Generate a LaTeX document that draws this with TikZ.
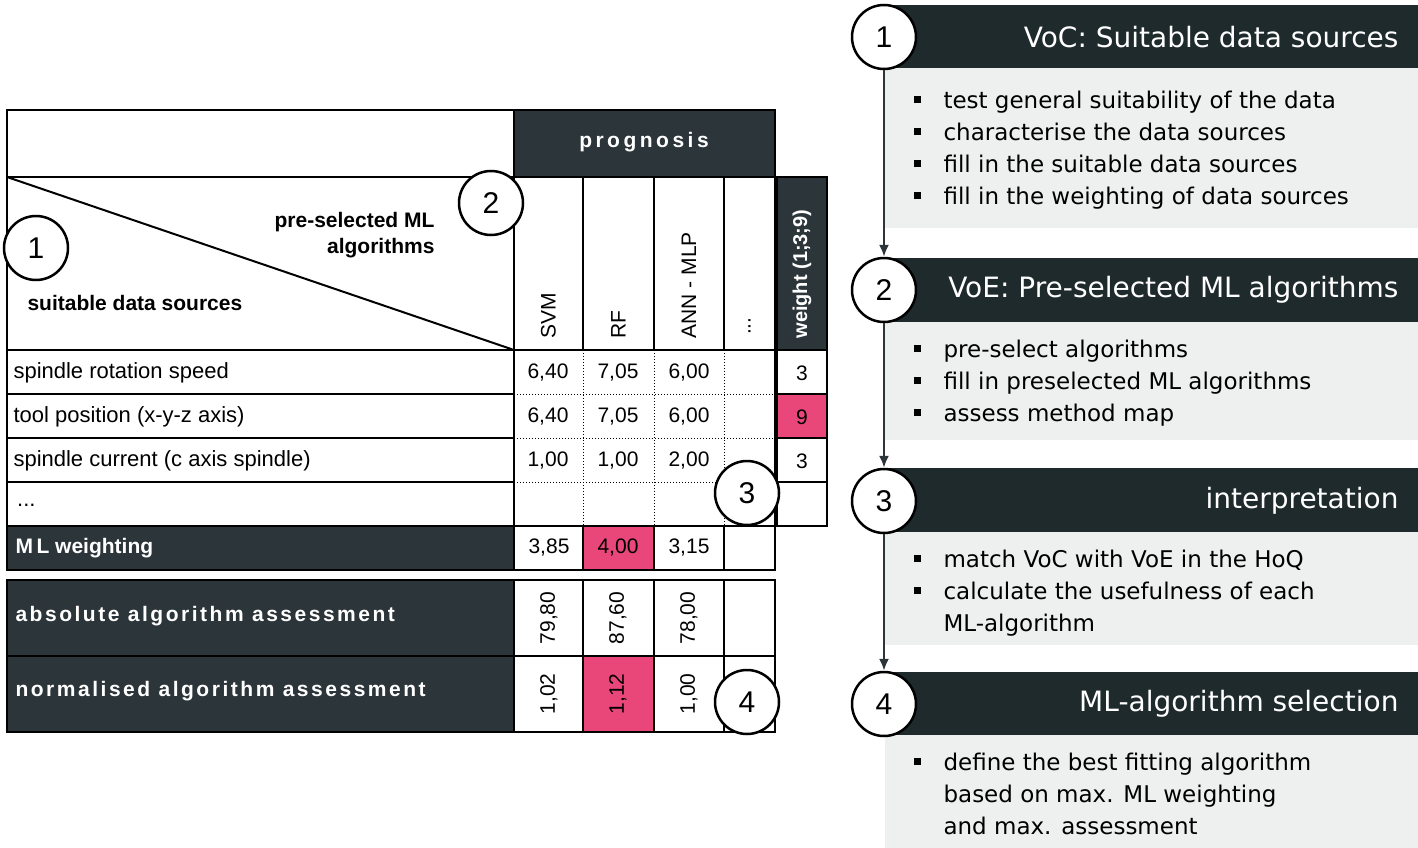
\documentclass[tikz,border=0pt]{standalone}
\usepackage{fontspec}
\usetikzlibrary{arrows.meta}
\setmainfont{Liberation Sans}
\newfontfamily\rfont{DejaVu Sans}
\definecolor{dk}{HTML}{2C3539}
\definecolor{dk2}{HTML}{1F2A2D}
\definecolor{pk}{HTML}{E9467A}
\definecolor{gr}{HTML}{EEF0F0}
\begin{document}
\begin{tikzpicture}[x=1pt,y=-1pt,
 cell/.style={draw=black,line width=2pt},
 dcell/.style={cell,fill=dk},
 num/.style={font=\fontsize{21}{22}\selectfont},
 lab/.style={font=\fontsize{22}{22}\selectfont,anchor=west},
 wlab/.style={font=\fontsize{21}{22}\selectfont\bfseries,text=white,anchor=west},
 circ/.style={circle,draw=black,line width=2.5pt,fill=white,minimum size=64pt,inner sep=0pt,font=\fontsize{30}{30}\selectfont},
 hdr/.style={fill=dk2},
 ttl/.style={text=white,anchor=east,font=\rfont\fontsize{28}{30}\selectfont},
 bul/.style={anchor=west,font=\rfont\fontsize{23}{32}\selectfont,align=left},
 arr/.style={line width=2pt,draw=dk,-{Latex[length=12pt,width=10pt]}}]
\useasboundingbox (0,0) rectangle (1418,848);
% table header
\draw[cell] (7,110) rectangle (514,177);
\draw[dcell] (514,110) rectangle (775,177);
\node[text=white,font=\fontsize{21}{22}\selectfont\bfseries] (prog) at (644,142) {p\,r\,o\,g\,n\,o\,s\,i\,s};
\draw[cell] (7,177) rectangle (514,350);
\draw[line width=2pt] (7,177) -- (514,350);
\node[anchor=east,align=right,font=\fontsize{21}{26}\selectfont\bfseries] (psel) at (438,235) {pre-selected ML\\algorithms};
\node[anchor=west,font=\fontsize{21}{22}\selectfont\bfseries] (sds) at (24,303) {suitable data sources};
% algorithm columns
\foreach \a/\b/\t in {514/583/{SVM},583/654/{RF},654/724/{ANN - MLP},724/775/{\,...}}{
 \draw[cell] (\a,177) rectangle (\b,350);
 \node[rotate=90,anchor=west,num] at ({(\a+\b)/2},342) {\t};
}
\draw[dcell] (777,177) rectangle (827,350);
\node[rotate=90,anchor=west,text=white,font=\fontsize{20}{22}\selectfont\bfseries] (wt) at (802,342) {weight (1;3;9)};
% data rows
\foreach \y/\t in {350/{spindle rotation speed},394/{tool position (x-y-z axis)},438/{spindle current (c axis spindle)},482/{\,...}}{
 \draw[cell] (7,\y) rectangle (514,\y+44);
 \node[lab] at (10,\y+23) {\t};
}
\draw[cell] (514,350) rectangle (775,526);
\draw[cell] (777,350) rectangle (827,526);
\fill[pk] (778,395) rectangle (826,437);
\foreach \y in {394,438,482}{ \draw[dotted,line width=1pt] (514,\y) -- (775,\y); \draw[line width=1.5pt] (777,\y) -- (827,\y);}
\foreach \x in {583,654,724}{ \draw[dotted,line width=1pt] (\x,350) -- (\x,526);}
\foreach \y/\a/\b/\c/\w in {350/{6,40}/{7,05}/{6,00}/3,394/{6,40}/{7,05}/{6,00}/9,438/{1,00}/{1,00}/{2,00}/3}{
 \node[num] at (548,\y+23) {\a}; \node[num] at (618,\y+23) {\b}; \node[num] at (689,\y+23) {\c}; \node[num] at (802,\y+23) {\w};
}
% ML weighting
\draw[dcell] (7,526) rectangle (514,570);
\node[wlab] at (12,548) {M\,L weighting};
\draw[cell] (514,526) rectangle (583,570);
\draw[cell,fill=pk] (583,526) rectangle (654,570);
\draw[cell] (654,526) rectangle (724,570);
\draw[cell] (724,526) rectangle (775,570);
\node[num] at (549,548) {3,85}; \node[num] at (618,548) {4,00}; \node[num] at (689,548) {3,15};
% assessments
\draw[dcell] (7,580) rectangle (514,656);
\draw[dcell] (7,656) rectangle (514,732);
\node[wlab,font=\fontsize{21}{22}\selectfont\bfseries\addfontfeature{LetterSpace=12}] at (12,616) {absolute algorithm assessment};
\node[wlab,font=\fontsize{21}{22}\selectfont\bfseries\addfontfeature{LetterSpace=12}] at (12,691) {normalised algorithm assessment};
\foreach \y in {580,656}{
 \draw[cell] (514,\y) rectangle (583,\y+76);
 \draw[cell] (654,\y) rectangle (724,\y+76);
 \draw[cell] (724,\y) rectangle (775,\y+76);
}
\draw[cell] (583,580) rectangle (654,656);
\draw[cell,fill=pk] (583,656) rectangle (654,732);
\foreach \x/\a/\b in {549/{79,80}/{1,02},618/{87,60}/{1,12},689/{78,00}/{1,00}}{
 \node[num,rotate=90] at (\x,618) {\a}; \node[num,rotate=90] at (\x,694) {\b};
}
% circles left
\node[circ] (c1) at (36,248) {1};
\node[circ] (c2) at (491,203) {2};
\node[circ] (c3) at (747,493) {3};
\node[circ] (c4) at (747,702) {4};
% right panel
\fill[hdr] (885,5) rectangle (1418,68);
\fill[gr] (885,68) rectangle (1418,228);
\fill[hdr] (885,258) rectangle (1418,322);
\fill[gr] (885,322) rectangle (1418,440);
\fill[hdr] (885,468) rectangle (1418,532);
\fill[gr] (885,532) rectangle (1418,645);
\fill[hdr] (885,672) rectangle (1418,735);
\fill[gr] (885,735) rectangle (1418,848);
\node[ttl] (t1) at (1402,37) {VoC: Suitable data sources};
\node[ttl] (t2) at (1402,290) {VoE: Pre-selected ML algorithms};
\node[ttl] (t3) at (1402,501) {interpretation};
\node[ttl] (t4) at (1402,704) {ML-algorithm selection};
\node[circ] (r1) at (884,37) {1};
\node[circ] (r2) at (884,290) {2};
\node[circ] (r3) at (884,501) {3};
\node[circ] (r4) at (884,704) {4};
\draw[arr] (r1) -- (r2);
\draw[arr] (r2) -- (r3);
\draw[arr] (r3) -- (r4);
\newcommand\bl{\rule[0.25em]{7pt}{7pt}\hspace{23pt}}
\node[bul] (b1) at (910,150) {\bl test general suitability of the data\\\bl characterise the data sources\\\bl fill in the suitable data sources\\\bl fill in the weighting of data sources};
\node[bul] (b2) at (910,383) {\bl pre-select algorithms\\\bl fill in preselected ML algorithms\\\bl assess method map};
\node[bul] (b3) at (910,593) {\bl match VoC with VoE in the HoQ\\\bl calculate the usefulness of each\\\hspace{30pt}ML-algorithm};
\node[bul] (b4) at (910,794) {\bl define the best fitting algorithm\\\hspace{30pt}based on max. ML weighting\\\hspace{30pt}and max. assessment};
\end{tikzpicture}
\end{document}
